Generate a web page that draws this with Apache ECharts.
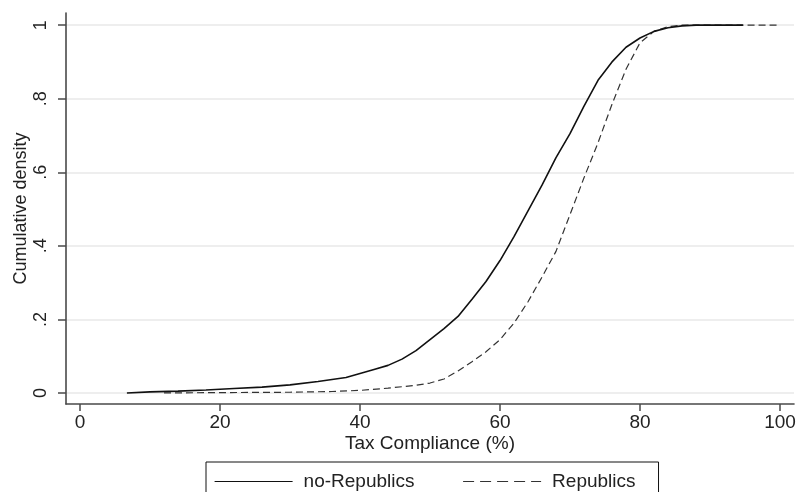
<!DOCTYPE html>
<html>
<head>
<meta charset="utf-8">
<script src="https://cdn.jsdelivr.net/npm/echarts@6/dist/echarts.min.js"></script>
<style>
  html, body { margin: 0; padding: 0; background: #fff; }
  #chart { width: 798px; height: 492px; }
</style>
</head>
<body>
<div id="chart"></div>
<script>
// Empirical cumulative distributions of tax compliance (%)
const noRepX = [6.7, 10, 14, 18, 22, 26, 30, 34, 38, 40, 42, 44, 46, 48, 50, 52, 54, 56, 58, 60, 62, 64, 66, 68, 70, 72, 74, 76, 78, 80, 82, 84, 86, 88, 94.7];
const noRepY = [0, 0.003, 0.005, 0.008, 0.012, 0.016, 0.022, 0.031, 0.042, 0.053, 0.064, 0.075, 0.092, 0.115, 0.145, 0.175, 0.208, 0.255, 0.303, 0.36, 0.425, 0.495, 0.565, 0.64, 0.705, 0.78, 0.85, 0.9, 0.94, 0.965, 0.983, 0.993, 0.998, 1, 1];

const repX = [12, 20, 30, 36, 40, 44, 48, 50, 52, 54, 56, 58, 60, 62, 64, 66, 68, 70, 72, 74, 76, 78, 80, 82, 84, 86, 100];
const repY = [0, 0.001, 0.002, 0.004, 0.007, 0.013, 0.021, 0.027, 0.038, 0.06, 0.085, 0.112, 0.145, 0.19, 0.248, 0.315, 0.385, 0.485, 0.585, 0.68, 0.785, 0.88, 0.952, 0.983, 0.996, 1, 1];

const seriesNames = ['no-Republics', 'Republics'];
const xTicks = [0, 20, 40, 60, 80, 100];
const yTicks = [0, 0.2, 0.4, 0.6, 0.8, 1];

const pairs = (xs, ys) => xs.map((x, i) => [x, ys[i]]);
// Stata-style labels: drop the leading zero (".2", ".4", ...)
const yLabel = v => (v === 0 || v === 1) ? String(v) : String(v).replace(/^0/, '');

const font = 'Liberation Sans, Arial, sans-serif';
const ink = '#222';
const axisInk = '#4a4a4a';
const chart = echarts.init(document.getElementById('chart'), null, { renderer: 'canvas' });

chart.setOption({
  animation: false,
  backgroundColor: '#fff',
  textStyle: { fontFamily: font },
  grid: { left: 66, right: 4, top: 13, bottom: 88, containLabel: false, outerBoundsMode: 'none' },
  xAxis: {
    type: 'value',
    min: -2, max: 102,
    name: 'Tax Compliance (%)',
    nameLocation: 'middle',
    nameGap: 30,
    nameMoveOverlap: false,
    nameTextStyle: { fontSize: 19, color: ink, fontFamily: font },
    axisLine: { show: true, onZero: false, lineStyle: { color: axisInk, width: 1.6 } },
    axisTick: { show: true, length: 7, customValues: xTicks, lineStyle: { color: axisInk, width: 1.5 } },
    axisLabel: { customValues: xTicks, margin: 9, fontSize: 19, color: ink, fontFamily: font },
    splitLine: { show: false }
  },
  yAxis: {
    type: 'value',
    min: -0.03, max: 1.033,
    name: 'Cumulative density',
    nameLocation: 'middle',
    nameGap: 36,
    nameMoveOverlap: false,
    nameTextStyle: { fontSize: 18, color: ink, fontFamily: font },
    axisLine: { show: true, onZero: false, lineStyle: { color: axisInk, width: 1.6 } },
    axisTick: { show: true, length: 8, customValues: yTicks, lineStyle: { color: axisInk, width: 1.5 } },
    axisLabel: { customValues: yTicks, rotate: 90, margin: 16, fontSize: 18, color: ink, fontFamily: font, formatter: yLabel },
    splitLine: { show: true, customValues: yTicks, lineStyle: { color: '#e8e8e8', width: 1.5 } }
  },
  legend: {
    data: [
      { name: seriesNames[0], lineStyle: { type: 'solid', width: 1.2 } },
      { name: seriesNames[1], lineStyle: { type: [11, 6], width: 1.2 } }
    ],
    left: 206,
    top: 462,
    padding: [10, 23, 11, 8],
    borderColor: '#111',
    borderWidth: 1,
    borderRadius: 0,
    itemWidth: 78,
    itemHeight: 14,
    itemGap: 48,
    itemStyle: { opacity: 0 },
    textStyle: { fontSize: 19, color: ink, fontFamily: font, padding: [0, 0, 0, 6] }
  },
  series: [
    {
      name: seriesNames[0],
      type: 'line',
      data: pairs(noRepX, noRepY),
      showSymbol: false,
      symbol: 'none',
      lineStyle: { color: '#111', width: 1.6, type: 'solid' },
      itemStyle: { color: '#111' },
      z: 3
    },
    {
      name: seriesNames[1],
      type: 'line',
      data: pairs(repX, repY),
      showSymbol: false,
      symbol: 'none',
      lineStyle: { color: '#333', width: 1.2, type: [7, 4] },
      itemStyle: { color: '#333' },
      z: 2
    }
  ]
});
</script>
</body>
</html>
